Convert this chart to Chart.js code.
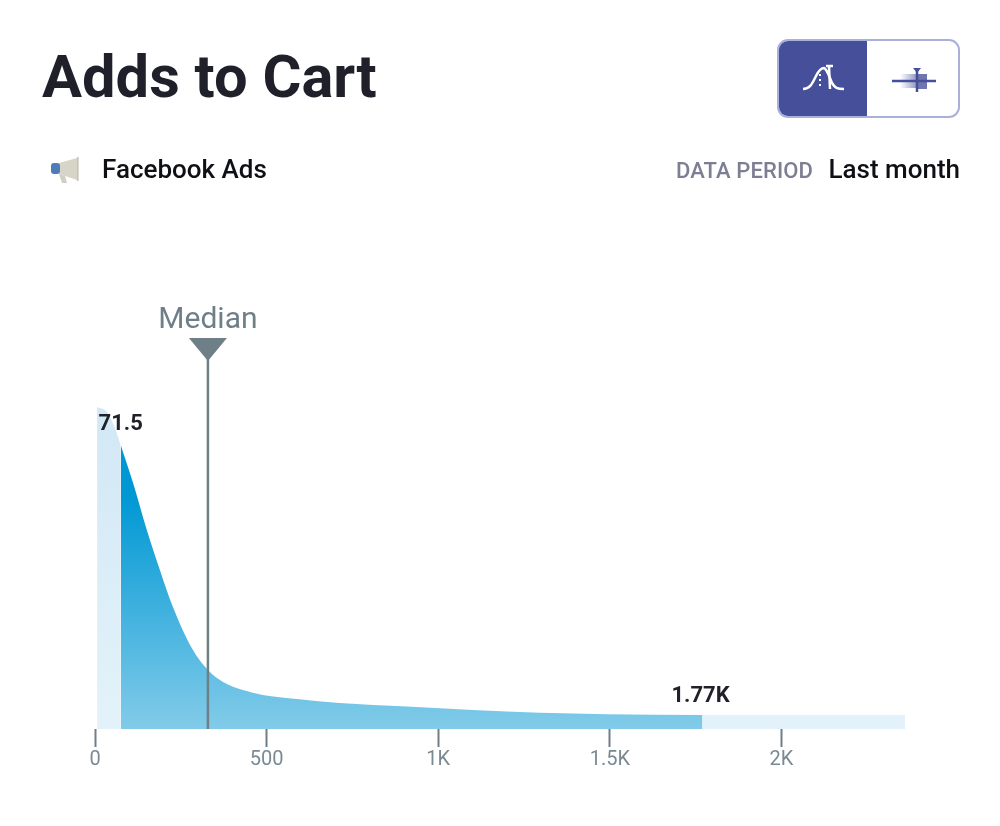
<!DOCTYPE html>
<html>
<head>
<meta charset="utf-8">
<title>Adds to Cart</title>
<script src="https://cdn.jsdelivr.net/npm/chart.js@4/dist/chart.umd.min.js"></script>
<style>
  html, body { margin: 0; padding: 0; background: #fff; }
  body { width: 1000px; height: 826px; position: relative; overflow: hidden; font-family: Roboto, sans-serif; }
  #chartBox { position: absolute; left: 0; top: 0; width: 1000px; height: 826px; }
  h1 { position: absolute; left: 42px; top: 41px; margin: 0; font-size: 59.6px; line-height: 72px; font-weight: 700; color: #1f2029; }
  .source { position: absolute; left: 102px; top: 154px; font-size: 26px; line-height: 30px; font-weight: 500; color: #0f1016; }
  .period { position: absolute; right: 40px; top: 154px; font-size: 26px; line-height: 30px; font-weight: 500; color: #0f1016; }
  .period span { font-size: 22px; color: #7d7d93; margin-right: 9px; letter-spacing: 0.1px; }
  .toggle { position: absolute; left: 777px; top: 39px; width: 183px; height: 79px; box-sizing: border-box; border: 2px solid #a9b0da; border-radius: 11px; overflow: hidden; }
  .toggle .on { position: absolute; left: -2px; top: -2px; width: 90px; height: 79px; background: #464f99; }
  .icon { position: absolute; }
</style>
</head>
<body>
<div id="chartBox"><canvas id="addsChart" width="1000" height="826"></canvas></div>
<h1>Adds to Cart</h1>

<svg class="icon" style="left:50px;top:156px" width="30" height="28" viewBox="0 0 30 28">
  <path d="M9 7 L27 2 L27 24 L9 18 Z" fill="#d6d5c8"/>
  <rect x="27" y="1" width="1.6" height="24" fill="#c4c3b6"/>
  <path d="M9 18 L15 20 L17 27 L12 27 Z" fill="#cfcfc6"/>
  <rect x="1" y="7" width="9" height="11" rx="3" fill="#4f7bb8"/>
</svg>
<div class="source">Facebook Ads</div>
<div class="period"><span>DATA PERIOD</span> Last month</div>

<div class="toggle">
  <div class="on"></div>
  <svg class="icon" style="left:22px;top:20px" width="46" height="32" viewBox="0 0 46 32">
    <path d="M2 28 C9 28 11 23 15 15 C18 9 20 7 23 7 C26 8 28 15 31 22 C34 27 36 28 43 28" fill="none" stroke="#fff" stroke-width="2.5"/>
    <path d="M19 13 L19 28" stroke="#fff" stroke-width="2" stroke-dasharray="2 3"/>
    <path d="M25 5 L32 5 M28 5 L29 28" stroke="#fff" stroke-width="2.5"/>
  </svg>
  <svg class="icon" style="left:111px;top:23px" width="48" height="32" viewBox="0 0 48 32">
    <defs><linearGradient id="fade" x1="0" x2="1"><stop offset="0" stop-color="#464f99" stop-opacity="0"/><stop offset="1" stop-color="#464f99" stop-opacity="0.6"/></linearGradient></defs>
    <rect x="10" y="10" width="17" height="14" fill="url(#fade)"/>
    <rect x="27" y="10" width="10" height="15" fill="#6f76ae"/>
    <path d="M2 17 L46 17" stroke="#464f99" stroke-width="2.5"/>
    <path d="M27 5 L27 28" stroke="#464f99" stroke-width="2.5"/>
    <path d="M23 4 L31 4 L27 9 Z" fill="#464f99"/>
  </svg>
</div>

<script>
// density is in relative units
const binValues = [6, 35, 58, 75, 111, 151, 189, 227, 282, 329, 373, 431, 489, 588, 713, 909, 1101, 1296, 1491, 1770, 2360];
const density = [80.5, 79.25, 75.25, 71, 61.5, 49.75, 39.75, 30.5, 20.25, 14.75, 11.75, 9.75, 8.5, 7.5, 6.5, 5.6, 4.75, 4.05, 3.7, 3.5, 3.5];
const tickValues = [0, 500, 1000, 1500, 2000];
const tickLabels = ['0', '500', '1K', '1.5K', '2K'];

const lowerBound = 75;
const upperBound = 1770;
const medianValue = 329;

const points = binValues.map((x, i) => ({ x: x, y: density[i] }));

function verticalGradient(chart, stops) {
    const area = chart.chartArea;
    if (!area) return stops[0][1];
    const g = chart.ctx.createLinearGradient(0, area.top, 0, area.bottom);
    stops.forEach(s => g.addColorStop(s[0], s[1]));
    return g;
}

function areaDataset(data, stops) {
    return {
        data: data,
        fill: 'origin',
        borderWidth: 0,
        pointRadius: 0,
        cubicInterpolationMode: 'monotone',
        backgroundColor: ctx => verticalGradient(ctx.chart, stops)
    };
}

// median marker and the two value labels
const annotations = {
    id: 'annotations',
    afterDatasetsDraw(chart) {
        const { ctx, scales } = chart;
        const mx = scales.x.getPixelForValue(medianValue);
        const base = scales.y.getPixelForValue(0);
        ctx.save();
        ctx.strokeStyle = '#6f7f88';
        ctx.fillStyle = '#6f7f88';
        ctx.lineWidth = 2.5;
        ctx.beginPath();
        ctx.moveTo(mx, base);
        ctx.lineTo(mx, 355);
        ctx.stroke();
        ctx.beginPath();
        ctx.moveTo(mx - 19, 338);
        ctx.lineTo(mx + 19, 338);
        ctx.lineTo(mx, 361);
        ctx.closePath();
        ctx.fill();

        ctx.textAlign = 'center';
        ctx.textBaseline = 'middle';
        ctx.font = '30px Roboto';
        ctx.fillText('Median', mx, 320);

        ctx.fillStyle = '#1f2029';
        ctx.font = '700 22px Roboto';
        ctx.fillText('71.5', scales.x.getPixelForValue(lowerBound), 424);
        ctx.fillText('1.77K', scales.x.getPixelForValue(upperBound) - 2, 696.5);
        ctx.restore();
    }
};

new Chart(document.getElementById('addsChart'), {
    type: 'line',
    data: {
        datasets: [
            areaDataset(points.filter(p => p.x <= lowerBound), [[0.2, '#d2e8f5'], [1, '#e3f2fa']]),
            areaDataset(points.filter(p => p.x >= lowerBound && p.x <= upperBound), [[0.42, '#0098d4'], [1, '#82cbe9']]),
            areaDataset(points.filter(p => p.x >= upperBound), [[0, '#e3f2fa'], [1, '#e3f2fa']])
        ]
    },
    plugins: [annotations],
    options: {
        responsive: false,
        animation: false,
        layout: { padding: { left: 95, right: 95, top: 329, bottom: 0 } },
        plugins: { legend: { display: false }, tooltip: { enabled: false } },
        scales: {
            x: {
                type: 'linear',
                min: 0,
                max: 2360,
                afterBuildTicks(axis) { axis.ticks = tickValues.map(v => ({ value: v })); },
                afterFit(axis) { axis.height = 97; },
                grid: { drawOnChartArea: false, tickLength: 18, tickWidth: 2, tickColor: '#6f7f88' },
                border: { display: false },
                ticks: {
                    autoSkip: false,
                    maxRotation: 0,
                    padding: 1,
                    color: '#7a8a94',
                    font: { family: 'Roboto', size: 20 },
                    callback: value => tickLabels[tickValues.indexOf(value)]
                }
            },
            y: { display: false, min: 0, max: 100 }
        }
    }
});
</script>
</body>
</html>
